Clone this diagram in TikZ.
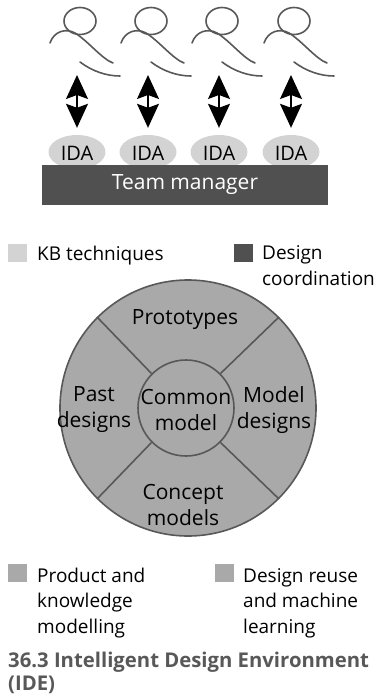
\documentclass[tikz,border=0pt]{standalone}
\usepackage{fontspec}
\setmainfont{Open Sans}
\usetikzlibrary{arrows.meta, positioning, shapes.geometric}
\definecolor{kbgrey}{HTML}{D3D3D3}
\definecolor{coordgrey}{HTML}{505050}
\definecolor{modelgrey}{HTML}{A9A9A9}
\definecolor{penGrey}{HTML}{585858}
\tikzset{
  figline/.style  = {draw=penGrey, line width=1.6pt, line cap=round},
  dblarr/.style   = {{Stealth[length=24pt, width=22pt, inset=4pt]}-{Stealth[length=24pt, width=22pt, inset=4pt]}, line width=1.3pt},
  idanode/.style  = {ellipse, fill=kbgrey, minimum width=57pt, minimum height=34pt, inner sep=0pt},
  keysq/.style    = {minimum width=19pt, minimum height=18pt, inner sep=0pt},
  keytext/.style  = {anchor=base west, align=left, inner sep=0pt},
  segtext/.style  = {align=center, inner sep=0pt, font=\fontsize{21}{26}\selectfont},
  %% a designer at the top
  designer/.pic = {
    \draw[figline] (0,0) ellipse [x radius=16, y radius=13.5];
    \draw[figline] (-30,22) .. controls (-26,10) and (-14,7) .. (-5,12)
                   .. controls (8,20) and (22,38) .. (33,42);
    \draw[figline] (0,41) .. controls (12,50) and (26,55) .. (40,55);
  },
}

\begin{document}
\begin{tikzpicture}[x=1pt, y=-1pt, font=\fontsize{19}{25.5}\selectfont]
\useasboundingbox (0,0) rectangle (374,697);

%% ---- designers, agents and the team manager ----
\foreach \i/\x in {1/77, 2/148, 3/219, 4/291} {
  \pic at (\x+3,21) {designer};
  \coordinate (up\i) at (\x,75);
  \node[idanode] (ida\i) at (\x,152) {};
}

\node[fill=coordgrey, minimum width=286pt, minimum height=40pt, inner sep=0pt,
      text=white, font=\fontsize{21}{25}\selectfont] (manager) at (185,185) {Team manager};

\foreach \i in {1,...,4} {
  \node[font=\fontsize{20}{24}\selectfont] at ([yshift=-1pt]ida\i) {IDA};
  \draw[dblarr, shorten >=7pt] (up\i) -- (ida\i.north);
}

%% ---- upper key (base = last line) ----
\node[keysq, fill=kbgrey]    (keykb)    at (17.5,253) {};
\node[keysq, fill=coordgrey] (keycoord) at (243,253) {};
\node[keytext] (kbtext)    at (37,260)  {KB techniques};
\node[keytext] (coordtext) at (262,285) {Design\\coordination};

%% ---- the wheel ----
\node[circle, draw=penGrey, line width=1.6pt, fill=modelgrey,
      minimum size=256pt, inner sep=0pt] (wheel) at (188,408) {};
\node[circle, draw=penGrey, line width=1.6pt, fill=modelgrey,
      minimum size=96pt, inner sep=0pt] (hub) at (186,408) {};
\foreach \a in {45,135,225,315}
  \draw[draw=penGrey, line width=1.6pt] (hub.\a) -- (wheel.\a);

\node[segtext] (proto)   at (185,320) {Prototypes};
\node[segtext] (past)    at (94,410)  {Past\\designs};
\node[segtext] (common)  at (186,410) {Common\\model};
\node[segtext] (mdesign) at (274,410) {Model\\designs};
\node[segtext] (concept) at (183,505) {Concept\\models};

%% ---- lower key ----
\node[keysq, fill=modelgrey] (keyprod)  at (17.5,572.5) {};
\node[keysq, fill=modelgrey] (keyreuse) at (224,572.5) {};
\node[keytext] (prodtext)  at (37,633)  {Product and\\knowledge\\modelling};
\node[keytext] (reusetext) at (243,633) {Design reuse\\and machine\\learning};

%% ---- caption ----
\node[keytext, text=penGrey, font=\fontsize{20.3}{23}\selectfont\bfseries]
  (caption) at (8,690) {36.3 Intelligent Design Environment\\(IDE)};

\end{tikzpicture}
\end{document}
